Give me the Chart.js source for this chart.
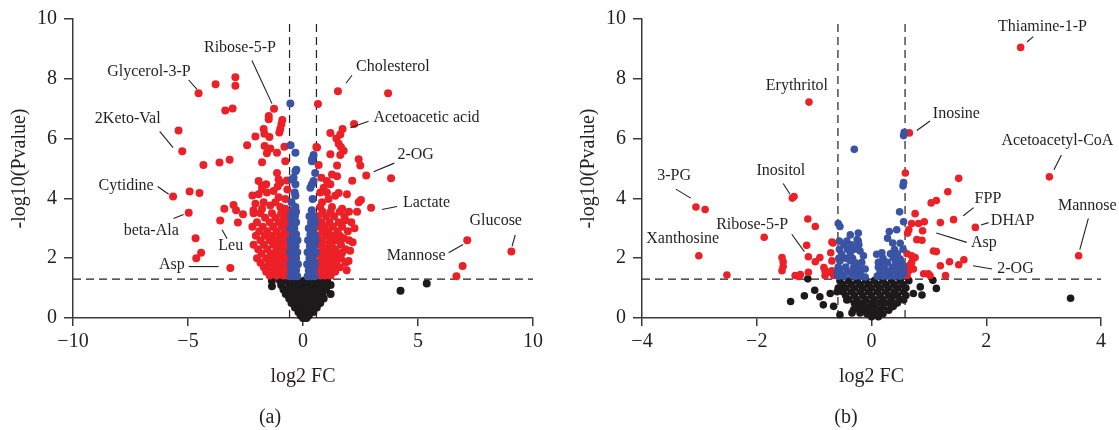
<!DOCTYPE html>
<html><head><meta charset="utf-8">
<script src="https://cdn.jsdelivr.net/npm/chart.js@4.4.0/dist/chart.umd.min.js"></script>
<style>
html,body{margin:0;padding:0;background:#fff;width:1119px;height:430px;overflow:hidden;position:relative;}
canvas{position:absolute;top:0;}
#ca{left:0px} #cb{left:569px}
.cap{position:absolute;font:20px "Liberation Serif",serif;color:#231f20;transform:translate(-50%,-50%);white-space:nowrap;}
</style></head><body>
<canvas id="ca" width="560" height="430"></canvas>
<canvas id="cb" width="550" height="430"></canvas>
<div class="cap" style="left:270px;top:416px">(a)</div>
<div class="cap" style="left:846px;top:416px">(b)</div>
<script>
// ---------- data ----------
const xTicksA = [-10, -5, 0, 5, 10];
const xTicksB = [-4, -2, 0, 2, 4];
const yTicks = [0, 2, 4, 6, 8, 10];
const fcCut = Math.log2(1.5);
const pCut = -Math.log10(0.05);

const redA = [
[-4.54,7.52],[-3.80,7.82],[-2.94,8.05],[-2.94,7.77],[-3.38,6.94],[-3.06,7.01],[-5.41,6.27],[-5.25,5.58],[-4.33,5.12],[-3.63,5.20],[-3.19,5.29],[-2.43,5.78],[-2.07,6.07],[-1.26,7.00],[-1.49,6.76],[-1.49,6.65],[-0.90,6.62],[-0.94,6.48],[-0.99,6.32],[-1.03,6.20],[-1.71,6.32],[-1.68,6.16],[-1.46,6.05],[-1.78,5.21],[-1.67,5.75],[-1.42,5.67],[-1.13,5.53],[-1.57,5.51],[-0.81,5.73],[-0.77,5.24],
[-5.65,4.06],[-4.93,4.23],[-4.50,4.18],[-4.97,3.52],[-4.67,2.67],[-4.43,2.18],[-4.64,2.00],[-3.16,1.67],[-3.60,3.26],[-3.42,3.65],[-3.02,3.78],[-2.91,3.60],[-2.61,3.47],[-2.83,3.19],
[-1.13,4.85],[-1.06,4.63],[-0.99,4.52],[-1.93,4.58],[-1.60,4.47],[-1.78,4.31],[-1.57,4.20],[-1.93,4.14],[-1.28,4.25],[-1.06,4.04],[-0.77,3.98],[-1.20,3.87],[-1.42,3.76],[-1.71,3.87],[-2.07,3.82],[-2.15,3.60],[-1.78,3.65],[-0.99,3.71],[-0.77,3.65],[-1.78,4.42],[-1.10,4.40],[-0.70,4.60],[-0.68,4.30],[-2.20,4.10],
[-2.15,3.50],[-1.85,3.50],[-1.35,3.50],[-0.95,3.50],[-0.70,3.50],
[-1.65,3.35],[-1.20,3.35],[-0.85,3.35],[-0.66,3.35],
[-2.00,3.20],[-1.45,3.20],[-1.05,3.20],[-0.75,3.20],
[-2.20,3.05],[-1.75,3.05],[-1.30,3.05],[-0.92,3.05],[-0.68,3.05],
[-1.90,2.90],[-1.55,2.90],[-1.15,2.90],[-0.80,2.90],
[-2.05,2.75],[-1.65,2.75],[-1.35,2.75],[-1.00,2.75],[-0.70,2.75],
[-1.85,2.60],[-1.45,2.60],[-1.20,2.60],[-0.88,2.60],[-0.65,2.60],
[-2.15,2.45],[-1.70,2.45],[-1.30,2.45],[-1.05,2.45],[-0.78,2.45],
[-1.95,2.30],[-1.55,2.30],[-1.15,2.30],[-0.90,2.30],[-0.68,2.30],
[-1.80,2.15],[-1.40,2.15],[-1.25,2.15],[-1.00,2.15],[-0.75,2.15],
[-2.00,2.00],[-1.60,2.00],[-1.30,2.00],[-1.10,2.00],[-0.85,2.00],[-0.66,2.00],
[-1.85,1.85],[-1.50,1.85],[-1.20,1.85],[-0.95,1.85],[-0.72,1.85],
[-1.70,1.70],[-1.35,1.70],[-1.05,1.70],[-0.80,1.70],[-0.64,1.70],
[-1.60,1.55],[-1.25,1.55],[-0.95,1.55],[-0.75,1.55],
[-1.45,1.42],[-1.15,1.42],[-0.85,1.42],[-0.68,1.42],
[1.52,7.58],[3.70,7.52],[0.65,7.16],[2.22,6.49],[1.72,6.32],[1.19,6.19],[1.62,6.14],[1.45,6.00],[1.55,5.83],[1.65,5.72],[1.77,5.59],[1.62,5.45],[0.58,5.72],[1.19,5.48],[1.48,5.10],[2.42,5.31],[2.49,5.10],[2.75,4.77],[3.83,4.67],[2.96,3.69],[2.52,3.95],[2.35,3.55],[2.24,3.00],[2.16,2.53],[1.91,4.14],[1.55,4.18],[1.84,3.27],[1.77,2.67],[1.98,1.91],[1.70,2.18],[1.48,4.74],[2.14,4.59],
[0.68,5.12],[0.80,4.69],[1.04,4.58],[1.26,4.80],[1.19,4.47],[0.90,4.36],[0.75,4.20],[1.04,4.20],[1.40,4.09],[1.11,3.98],[0.83,3.87],[0.75,3.71],[1.26,3.71],[1.70,3.65],[2.42,3.87],[0.61,5.70],
[9.06,2.22],[7.14,2.60],[6.94,1.74],[6.67,1.40],
[0.85,3.55],[1.20,3.55],[1.60,3.55],[2.00,3.55],
[0.65,3.40],[1.00,3.40],[1.35,3.40],[1.80,3.40],
[0.80,3.20],[1.15,3.20],[1.55,3.20],[2.10,3.20],
[0.68,3.05],[0.95,3.05],[1.30,3.05],[1.70,3.05],
[0.85,2.90],[1.10,2.90],[1.50,2.90],[1.95,2.90],
[0.65,2.75],[1.00,2.75],[1.30,2.75],[1.60,2.75],
[0.80,2.60],[1.15,2.60],[1.45,2.60],[2.00,2.60],
[0.68,2.45],[0.95,2.45],[1.25,2.45],[1.65,2.45],
[0.85,2.30],[1.10,2.30],[1.40,2.30],[1.85,2.30],[2.05,2.25],
[0.65,2.15],[0.95,2.15],[1.20,2.15],[1.50,2.15],
[0.80,2.00],[1.05,2.00],[1.35,2.00],[1.65,2.00],
[0.68,1.85],[0.90,1.85],[1.15,1.85],[1.45,1.85],[1.85,1.85],
[0.78,1.70],[1.00,1.70],[1.30,1.70],[1.60,1.70],
[0.65,1.55],[0.88,1.55],[1.10,1.55],[1.40,1.55],[1.90,1.60],
[0.75,1.42],[0.95,1.42],[1.20,1.42]
];

const blueA = [
[-0.55,7.17],[-0.54,5.78],[-0.33,5.53],[-0.29,4.96],[-0.33,4.91],[-0.41,4.69],[-0.48,4.63],[-0.33,4.47],[-0.36,4.20],[-0.33,4.09],[-0.50,3.87],[-0.33,3.71],
[-0.45,3.60],[-0.30,3.55],[-0.52,3.40],[-0.35,3.40],[-0.48,3.20],[-0.30,3.20],[-0.55,3.00],[-0.38,3.00],[-0.45,2.80],[-0.30,2.80],
[-0.55,2.60],[-0.40,2.60],[-0.24,2.60],[-0.50,2.40],[-0.32,2.40],[-0.56,2.20],[-0.40,2.20],[-0.25,2.20],[-0.48,2.00],[-0.30,2.00],
[-0.55,1.80],[-0.38,1.80],[-0.22,1.80],[-0.50,1.60],[-0.30,1.60],[-0.55,1.40],[-0.40,1.40],[-0.25,1.40],
[0.46,5.45],[0.42,5.34],[0.39,5.24],[0.39,5.29],[0.53,4.85],[0.46,4.58],[0.39,4.47],[0.32,4.36],[0.42,3.98],[0.38,3.60],
[0.28,3.40],[0.45,3.40],[0.35,3.20],[0.52,3.20],[0.25,3.00],[0.45,3.00],[0.32,2.80],[0.50,2.80],
[0.22,2.60],[0.40,2.60],[0.55,2.60],[0.30,2.40],[0.48,2.40],[0.20,2.20],[0.38,2.20],[0.55,2.20],[0.28,2.00],[0.45,2.00],
[0.18,1.80],[0.35,1.80],[0.52,1.80],[0.25,1.60],[0.45,1.60],[0.20,1.40],[0.35,1.40],[0.50,1.40]
];

const blackA = [
[-1.35,1.25],[-1.00,1.25],[-0.70,1.25],[-0.45,1.25],[-0.20,1.25],[0.05,1.25],[0.30,1.25],[0.55,1.25],[0.80,1.25],[1.05,1.25],
[-0.95,1.10],[-0.60,1.10],[-0.35,1.10],[-0.10,1.10],[0.15,1.10],[0.40,1.10],[0.65,1.10],[0.90,1.10],[1.20,1.10],
[-0.85,0.95],[-0.55,0.95],[-0.30,0.95],[-0.05,0.95],[0.20,0.95],[0.45,0.95],[0.70,0.95],[1.00,0.95],
[-0.75,0.80],[-0.45,0.80],[-0.20,0.80],[0.05,0.80],[0.30,0.80],[0.55,0.80],[0.85,0.80],[1.20,0.80],
[-0.60,0.65],[-0.35,0.65],[-0.10,0.65],[0.15,0.65],[0.40,0.65],[0.65,0.65],[0.90,0.65],
[-0.50,0.50],[-0.25,0.50],[0.00,0.50],[0.25,0.50],[0.50,0.50],[0.75,0.50],
[-0.35,0.35],[-0.10,0.35],[0.15,0.35],[0.40,0.35],[0.60,0.35],
[-0.20,0.20],[0.05,0.20],[0.30,0.20],[0.45,0.20],
[-0.10,0.08],[0.10,0.08],[0.25,0.08],[0.00,0.00],[0.15,0.00],
[-1.35,1.06],[5.38,1.15],[4.24,0.91]
];

const redB = [
[2.60,9.05],[0.66,6.19],[0.59,4.85],[3.10,4.72],[1.52,4.67],[1.33,4.22],[1.13,3.93],[1.04,3.85],[0.76,3.49],[1.43,3.29],[1.20,3.19],[1.81,3.03],[0.82,3.16],[0.92,3.22],[0.89,2.92],[0.70,3.16],[0.65,2.95],[0.63,2.84],[0.79,2.62],[0.88,2.60],[1.13,2.22],[0.62,2.15],[0.70,2.08],[0.76,2.02],[1.61,1.95],[1.52,1.78],[1.36,1.88],[1.20,1.75],[1.29,1.42],[0.65,1.75],[0.73,1.64],[0.91,1.48],[0.99,1.48],[0.62,1.42],[3.61,2.08],[0.70,1.86],[1.08,2.24],[1.02,1.42],[0.65,1.58],
[-1.09,7.22],[-3.06,3.71],[-2.90,3.63],[-3.01,2.08],[-2.52,1.44],[-1.38,4.01],[-1.35,4.06],[-1.87,2.70],[-1.11,3.31],[-0.98,3.06],[-1.13,2.43],[-1.10,2.05],[-0.90,2.02],[-0.98,1.88],[-1.56,2.02],[-1.54,1.88],[-1.54,1.72],[-1.56,1.58],[-1.33,1.42],[-1.24,1.45],[-1.27,1.39],[-1.10,1.53],[-0.69,2.54],[-0.71,2.18],[-0.83,1.69],[-0.75,1.53],[-0.66,1.42],[-0.81,1.42],[-0.69,1.91],[-0.81,1.58],[-0.69,1.58],[-0.67,2.51]
];

const blueB = [
[-0.30,5.64],[0.56,6.10],[0.57,6.21],[0.55,4.42],[0.56,4.53],[0.56,3.22],[0.49,3.55],
[-0.58,3.16],[-0.55,3.06],[-0.23,2.84],[-0.37,2.78],[-0.56,2.57],[-0.43,2.57],[-0.23,2.57],[-0.25,2.62],
[-0.48,2.45],[-0.35,2.45],[-0.22,2.45],[-0.56,2.30],[-0.42,2.30],[-0.30,2.30],
[-0.52,2.13],[-0.37,2.18],[-0.20,2.24],[-0.14,2.08],[-0.57,2.00],[-0.45,2.00],[-0.33,2.00],
[-0.55,1.91],[-0.37,1.91],[-0.17,1.86],[-0.28,1.85],
[-0.58,1.70],[-0.45,1.70],[-0.31,1.69],[-0.11,1.64],[-0.22,1.72],
[-0.55,1.55],[-0.42,1.55],[-0.30,1.55],[-0.20,1.55],[-0.60,1.53],
[-0.58,1.40],[-0.48,1.40],[-0.34,1.42],[-0.28,1.40],[-0.18,1.40],[-0.11,1.37],
[0.31,2.89],[0.44,2.95],[0.28,2.67],[0.37,2.51],[0.50,2.50],[0.40,2.29],[0.55,2.30],
[0.09,2.13],[0.18,2.18],[0.33,2.15],[0.45,2.15],[0.20,2.00],[0.38,2.02],[0.50,1.97],
[0.12,1.86],[0.18,1.85],[0.28,1.86],[0.42,1.85],[0.52,1.85],
[0.12,1.70],[0.22,1.70],[0.36,1.69],[0.47,1.69],[0.56,1.70],
[0.15,1.58],[0.27,1.55],[0.38,1.55],[0.50,1.55],
[0.10,1.40],[0.20,1.40],[0.30,1.40],[0.40,1.40],[0.50,1.40],[0.56,1.48]
];

const blackB = [
[-0.55,1.25],[-0.40,1.25],[-0.25,1.25],[-0.10,1.25],[0.05,1.25],[0.20,1.25],[0.35,1.25],[0.50,1.25],[0.65,1.25],
[-0.50,1.12],[-0.35,1.12],[-0.20,1.12],[-0.05,1.12],[0.10,1.12],[0.25,1.12],[0.40,1.12],[0.55,1.12],
[-0.58,1.00],[-0.45,1.00],[-0.30,1.00],[-0.15,1.00],[0.00,1.00],[0.15,1.00],[0.30,1.00],[0.45,1.00],[0.60,1.00],
[-0.50,0.88],[-0.35,0.88],[-0.20,0.88],[-0.05,0.88],[0.10,0.88],[0.25,0.88],[0.40,0.88],[0.55,0.88],
[-0.45,0.75],[-0.30,0.75],[-0.15,0.75],[0.00,0.75],[0.15,0.75],[0.30,0.75],[0.45,0.75],[0.60,0.75],
[-0.40,0.62],[-0.25,0.62],[-0.10,0.62],[0.05,0.62],[0.20,0.62],[0.35,0.62],[0.50,0.62],
[-0.30,0.50],[-0.15,0.50],[0.00,0.50],[0.15,0.50],[0.30,0.50],[0.45,0.50],
[-0.25,0.38],[-0.10,0.38],[0.05,0.38],[0.20,0.38],[0.35,0.38],
[-0.15,0.26],[0.00,0.26],[0.15,0.26],[0.30,0.26],
[-0.08,0.14],[0.07,0.14],[0.20,0.14],[0.00,0.04],[0.12,0.04],
[-1.11,1.31],[-0.99,0.93],[-1.17,0.74],[-1.41,0.55],[-0.90,0.71],[-0.84,0.44],[-0.72,0.82],[-0.60,0.88],[-0.66,0.39],[-0.43,0.60],[-0.31,0.28],[-0.20,0.17],[-0.55,0.11],
[1.07,1.26],[1.13,0.99],[0.85,1.04],[0.88,0.77],[0.73,0.82],[0.56,0.60],[0.33,0.71],[0.38,0.39],[0.15,0.50],[-0.02,0.28],[-0.20,0.39],[-0.34,0.17],
[3.47,0.66]
];

const labelsA = [
 {t:'Glycerol-3-P', p:[-6.70,8.25], l:[-4.97,7.96,-4.61,7.65]},
 {t:'Ribose-5-P', p:[-2.74,9.05], l:[-2.22,8.61,-1.35,7.17]},
 {t:'2Keto-Val', p:[-7.62,6.65], l:[-6.23,6.24,-5.65,5.70]},
 {t:'Cytidine', p:[-7.69,4.42], l:[-6.32,4.40,-5.84,4.14]},
 {t:'beta-Ala', p:[-6.60,2.92], l:[-5.63,3.33,-5.19,3.46]},
 {t:'Leu', p:[-3.14,2.40], l:[-3.52,2.95,-3.30,2.65]},
 {t:'Asp', p:[-5.70,1.77], l:[-4.97,1.72,-3.67,1.72]},
 {t:'Cholesterol', p:[3.91,8.39], l:[2.13,8.12,1.87,7.85]},
 {t:'Acetoacetic acid', p:[5.37,6.68], l:[2.85,6.58,2.06,6.36]},
 {t:'2-OG', p:[4.90,5.45], l:[3.97,5.18,3.07,4.89]},
 {t:'Lactate', p:[5.37,3.84], l:[4.09,3.73,3.43,3.63]},
 {t:'Glucose', p:[8.38,3.24], l:[9.23,2.78,9.09,2.40]},
 {t:'Mannose', p:[4.92,2.08], l:[6.33,2.18,6.96,2.46]}
];
const labelsB = [
 {t:'Erythritol', p:[-1.30,7.77]},
 {t:'Thiamine-1-P', p:[2.98,9.75], l:[2.82,9.41,2.71,9.23]},
 {t:'Inosine', p:[1.48,6.84], l:[1.02,6.59,0.79,6.27]},
 {t:'Acetoacetyl-CoA', p:[3.24,5.92], l:[3.31,5.45,3.18,4.96]},
 {t:'3-PG', p:[-3.44,4.75], l:[-3.41,4.31,-3.15,4.01]},
 {t:'Inositol', p:[-1.58,4.91], l:[-1.54,4.50,-1.42,4.14]},
 {t:'Xanthosine', p:[-3.29,2.65]},
 {t:'Ribose-5-P', p:[-2.08,3.11], l:[-1.39,2.80,-1.17,2.22]},
 {t:'FPP', p:[2.03,4.00], l:[1.78,3.69,1.60,3.42]},
 {t:'DHAP', p:[2.46,3.24], l:[2.04,3.19,1.91,3.11]},
 {t:'Asp', p:[1.96,2.53], l:[1.66,2.53,1.13,2.84]},
 {t:'2-OG', p:[2.51,1.64], l:[2.10,1.64,1.77,1.75]},
 {t:'Mannose', p:[3.76,3.76], l:[3.78,3.33,3.63,2.29]}
];

// ---------- styles ----------
const FONT = '"Liberation Serif", "Times New Roman", serif';
const TXT = '#231f20';
const AX = '#3a3a3a';
const RED = '#ec2027';
const BLUE = '#3a53a4';
const BLK = '#1c1a1a';

const toPts = arr => arr.map(([x, y]) => ({x, y}));
const minus = v => String(v).replace('-', '\u2212');

function labelPlugin(items) {
  return {
    id: 'volcLabels',
    afterDatasetsDraw(chart) {
      const {ctx, scales: {x, y}} = chart;
      ctx.save();
      ctx.strokeStyle = TXT; ctx.lineWidth = 1.1;
      ctx.fillStyle = TXT;
      ctx.font = '16px ' + FONT;
      ctx.textAlign = 'center'; ctx.textBaseline = 'middle';
      for (const it of items) {
        if (it.l) {
          ctx.beginPath();
          ctx.moveTo(x.getPixelForValue(it.l[0]), y.getPixelForValue(it.l[1]));
          ctx.lineTo(x.getPixelForValue(it.l[2]), y.getPixelForValue(it.l[3]));
          ctx.stroke();
        }
        ctx.fillText(it.t, x.getPixelForValue(it.p[0]), y.getPixelForValue(it.p[1]));
      }
      ctx.restore();
    }
  };
}

function makeChart(id, red, blue, black, xmin, xmax, xticks, labels, rightPad, radius) {
  const dash = (pts) => ({
    type: 'line', data: pts, borderColor: TXT, borderWidth: 1.2, borderDash: [8, 5],
    pointRadius: 0, showLine: true, fill: false, order: 10, clip: false
  });
  const pts = (data, color, order) => ({
    type: 'scatter', data: toPts(data), backgroundColor: color, borderWidth: 0,
    pointRadius: radius, pointHoverRadius: radius, order, clip: false
  });
  return new Chart(document.getElementById(id), {
    data: {
      datasets: [
        pts(blue, BLUE, 1),
        pts(red, RED, 2),
        pts(black, BLK, 3),
        dash([{x: -fcCut, y: 0}, {x: -fcCut, y: 10}]),
        dash([{x: fcCut, y: 0}, {x: fcCut, y: 10}]),
        dash([{x: xmin, y: pCut}, {x: xmax, y: pCut}])
      ]
    },
    options: {
      responsive: false, animation: false, devicePixelRatio: 1,
      layout: {padding: {left: 0, right: rightPad, top: 12, bottom: 40}},
      plugins: {legend: {display: false}, tooltip: {enabled: false}},
      scales: {
        x: {
          type: 'linear', position: 'bottom', min: xmin, max: xmax,
          afterBuildTicks: s => { s.ticks = xticks.map(v => ({value: v})); },
          afterFit: s => { s.height = 72; },
          grid: {drawOnChartArea: false, drawTicks: true, tickLength: 8, color: AX, lineWidth: 1.5},
          border: {display: true, color: AX, width: 1.5},
          ticks: {color: TXT, font: {family: FONT, size: 20}, padding: 4, maxRotation: 0, autoSkip: false, callback: minus},
          title: {display: true, text: 'log2 FC', color: TXT, font: {family: FONT, size: 20}, padding: {top: 0, bottom: 1}}
        },
        y: {
          type: 'linear', position: 'left', min: 0, max: 10,
          afterBuildTicks: s => { s.ticks = yTicks.map(v => ({value: v})); },
          afterFit: s => { s.width = 73; },
          grid: {drawOnChartArea: false, drawTicks: true, tickLength: 9, color: AX, lineWidth: 1.5},
          border: {display: true, color: AX, width: 1.5},
          ticks: {color: TXT, font: {family: FONT, size: 20}, padding: 7, autoSkip: false, callback: minus},
          title: {display: true, text: '-log10(Pvalue)', color: TXT, font: {family: FONT, size: 20}, padding: {top: 8, bottom: 0}}
        }
      }
    },
    plugins: [labelPlugin(labels)]
  });
}

makeChart('ca', redA, blueA, blackA, -10, 10, xTicksA, labelsA, 27, 4);
makeChart('cb', redB, blueB, blackB, -4, 4, xTicksB, labelsB, 18, 3.8);
</script>
</body></html>
